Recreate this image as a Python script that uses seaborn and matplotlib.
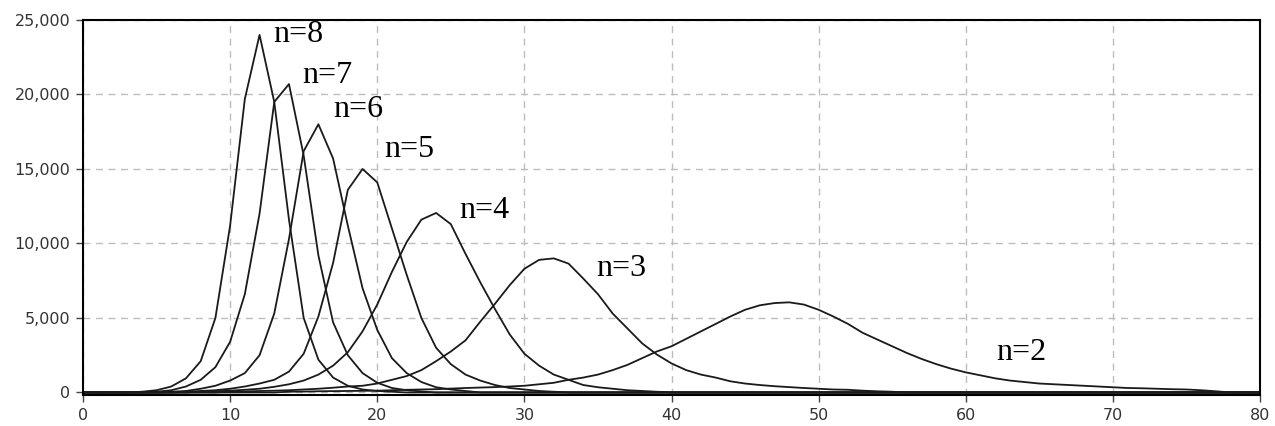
import numpy as np
import pandas as pd
import matplotlib
matplotlib.use('Agg')
import matplotlib.pyplot as plt
import matplotlib.ticker as mticker
import seaborn as sns

# values in thousands, one value per integer x starting at the given x
x_max = 80
n8_start = 4
n8 = [0.05, 0.15, 0.4, 0.95, 2.1, 5.0, 11.2, 19.7, 24.0, 19.5, 11.6, 5.0, 2.2, 1.0,
      0.45, 0.2, 0.1, 0.05]
n7_start = 5
n7 = [0.05, 0.15, 0.4, 0.85, 1.7, 3.4, 6.6, 12.0, 19.5, 20.7, 15.9, 9.2, 4.7, 2.5,
      1.3, 0.65, 0.3, 0.15, 0.07]
n6_start = 6
n6 = [0.05, 0.1, 0.25, 0.45, 0.8, 1.3, 2.5, 5.3, 10.3, 16.2, 18.0, 15.7, 11.2, 7.0,
      4.2, 2.3, 1.3, 0.7, 0.35, 0.2, 0.1]
n5_start = 7
n5 = [0.05, 0.1, 0.15, 0.25, 0.4, 0.6, 0.85, 1.4, 2.6, 5.1, 8.7, 13.6, 15.0, 14.1,
      11.0, 7.9, 5.0, 3.0, 1.9, 1.2, 0.8, 0.5, 0.3, 0.2, 0.1, 0.05]
n4_start = 8
n4 = [0.05, 0.08, 0.12, 0.18, 0.25, 0.38, 0.55, 0.8, 1.2, 1.8, 2.7, 4.1, 5.9, 8.1,
      10.1, 11.6, 12.05, 11.3, 9.3, 7.4, 5.6, 3.9, 2.6, 1.8, 1.2, 0.85, 0.5, 0.35,
      0.25, 0.15, 0.1, 0.05]
n3_start = 10
n3 = [0.05, 0.07, 0.1, 0.12, 0.15, 0.2, 0.25, 0.32, 0.4, 0.45, 0.6, 0.85, 1.1, 1.5,
      2.1, 2.75, 3.5, 4.75, 5.95, 7.2, 8.3, 8.9, 9.0, 8.65, 7.65, 6.6, 5.3, 4.3, 3.3,
      2.55, 1.95, 1.5, 1.2, 1.0, 0.75, 0.6, 0.5, 0.42, 0.36, 0.3, 0.25, 0.2, 0.18,
      0.12, 0.08, 0.05]
n2_start = 14
n2 = [0.05, 0.06, 0.08, 0.09, 0.1, 0.11, 0.12, 0.15, 0.18, 0.2, 0.22, 0.26, 0.3,
      0.33, 0.36, 0.4, 0.45, 0.55, 0.65, 0.85, 1.0, 1.2, 1.5, 1.85, 2.3, 2.75, 3.1,
      3.6, 4.1, 4.6, 5.1, 5.55, 5.85, 6.0, 6.05, 5.9, 5.55, 5.1, 4.6, 4.0, 3.55, 3.1,
      2.65, 2.25, 1.9, 1.6, 1.35, 1.15, 0.95, 0.8, 0.7, 0.6, 0.55, 0.5, 0.45, 0.4,
      0.35, 0.3, 0.28, 0.25, 0.22, 0.2, 0.15, 0.08]

series = {8: (n8_start, n8), 7: (n7_start, n7), 6: (n6_start, n6), 5: (n5_start, n5),
          4: (n4_start, n4), 3: (n3_start, n3), 2: (n2_start, n2)}

# label text and where it sits (data coords)
labels = ['n=8', 'n=7', 'n=6', 'n=5', 'n=4', 'n=3', 'n=2']
label_x = [12.9, 14.9, 17.0, 20.5, 25.6, 34.9, 62.1]
label_y = [24000, 21300, 19000, 16300, 12200, 8300, 2650]

#build long table, zero outside the listed range
x = np.arange(0, x_max + 1)
rows = []
for n, (start, vals) in series.items():
    y = np.zeros(len(x))
    y[start:start + len(vals)] = np.array(vals) * 1000
    rows.append(pd.DataFrame({'x': x, 'count': y, 'n': n}))
df = pd.concat(rows, ignore_index=True)

sns.set_style('white')
fig = plt.figure(figsize=(12.75, 4.26), dpi=100)
ax = fig.add_axes([83/1275, 1 - 395/426, (1260 - 83)/1275, (395 - 20)/426])

sns.lineplot(data=df, x='x', y='count', hue='n', units='n', estimator=None,
             palette=['#1a1a1a'] * 7, linewidth=1.3, legend=False, ax=ax)

for t, lx, ly in zip(labels, label_x, label_y):
    ax.text(lx, ly, t, fontsize=23, family='Liberation Serif', color='black',
            ha='left', va='center')

ax.set_xlim(0, 80)
ax.set_ylim(-170, 25000)
ax.set_xticks(range(0, 81, 10))
ax.set_yticks(range(0, 25001, 5000))
ax.yaxis.set_major_formatter(mticker.StrMethodFormatter('{x:,.0f}'))
ax.set_xlabel('')
ax.set_ylabel('')
ax.grid(True, color='#bdbdbd', linestyle=(0, (5, 4)), linewidth=1)
ax.set_axisbelow(True)
for s in ax.spines.values():
    s.set_color('black')
    s.set_linewidth(1.5)
ax.tick_params(axis='both', direction='out', length=5, width=1, color='#444444',
               labelsize=11.5, labelcolor='#333333', bottom=True, left=True, pad=4)

fig.savefig('out.png', dpi=100)
